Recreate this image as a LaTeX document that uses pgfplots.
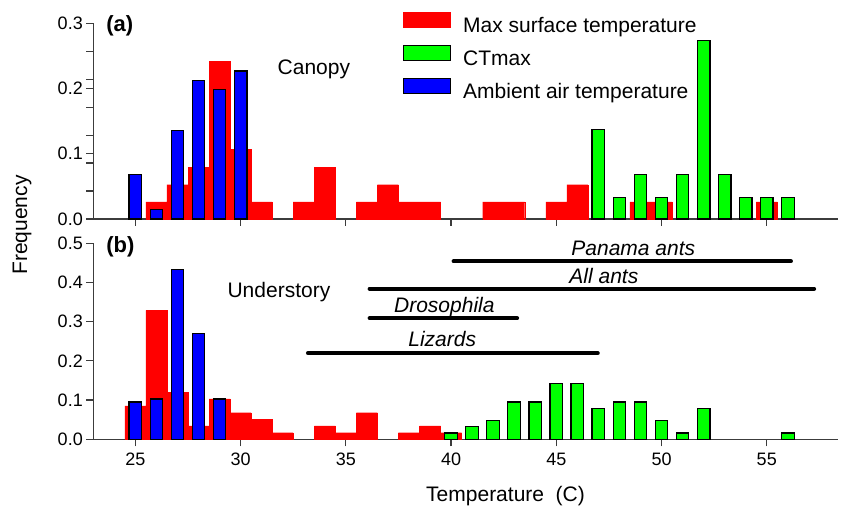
\documentclass[border=0pt]{standalone}
\usepackage{pgfplots}
\pgfplotsset{compat=1.18}
\usepackage{fontspec}
\setmainfont{Liberation Sans}
\definecolor{rred}{RGB}{255,0,0}
\definecolor{ggreen}{RGB}{0,255,0}
\definecolor{bblue}{RGB}{0,0,255}
\definecolor{axgray}{RGB}{60,60,60}
\newcommand{\lblfont}{\fontsize{21}{24}\selectfont}
\pgfplotsset{
  boxlegend/.style={legend image code/.code={\draw[##1] (0pt,0pt) rectangle (47pt,14.6pt);}},
  panel/.style={
    scale only axis, width=745pt,
    xmin=23, xmax=58.4, ymin=0,
    axis lines*=left, axis line style={axgray, line width=1.4pt, -},
    tick align=outside, major tick length=7pt,
    tick style={axgray, line width=1.2pt},
    xtick={25,30,...,55},
    tick label style={font=\fontsize{18}{20}\selectfont},
    /pgf/number format/assume math mode=true,
    yticklabel style={/pgf/number format/fixed, /pgf/number format/fixed zerofill, /pgf/number format/precision=1},
    xticklabel style={yshift=-3pt},
    clip=false,
  },
  redbar/.style={ybar, bar width=1, bar shift=0pt, fill=rred, draw=rred, line width=0.2pt},
  outbar/.style={ybar, bar width=0.6, bar shift=0pt, draw=black, line width=1.2pt},
}
\begin{document}
\begin{tikzpicture}
\useasboundingbox (0,0) rectangle (842pt,508pt);
% ---------------- (a) Canopy ----------------
\begin{axis}[panel, at={(93.3pt,289pt)}, anchor=south west, height=195.7pt,
  ymax=0.3, ytick={0,0.1,0.2,0.3}, xticklabels={},
  extra y ticks={0.0429,0.0857,0.1286,0.1714,0.2143,0.2571}, extra y tick labels={},
  legend style={draw=none, fill=none, inner sep=0pt, outer sep=0pt,
    at={(0.4157,1.056)}, anchor=north west, row sep=8pt, column sep=12pt,
    nodes={inner sep=0pt, text height=15pt, text depth=5pt, font=\lblfont}},
  legend cell align=left]
\addplot[redbar, boxlegend] coordinates {
 (26,0.0263) (27,0.0526) (28,0.0789) (29,0.242) (30,0.107) (31,0.0263)
 (33,0.0263) (34,0.0789) (36,0.0263) (37,0.0526) (38,0.0263) (39,0.0263)
 (42,0.0263) (43,0.0263) (45,0.0263) (46,0.0526) (49,0.0263) (50,0.0263) (55,0.0263)};
\addlegendentry{Max surface temperature}
\addplot[outbar, fill=ggreen, boxlegend] coordinates {
 (47,0.137) (48,0.0335) (49,0.068) (50,0.0335) (51,0.068) (52,0.274)
 (53,0.068) (54,0.0335) (55,0.0335) (56,0.0335)};
\addlegendentry{CTmax}
\addplot[outbar, fill=bblue, boxlegend] coordinates {
 (25,0.068) (26,0.014) (27,0.136) (28,0.212) (29,0.198) (30,0.227)};
\addlegendentry{Ambient air temperature}
\node[anchor=base west, font=\fontsize{22}{24}\selectfont\bfseries] at (axis cs:23.45,0.287) {(a)};
\node[anchor=base, font=\lblfont] at (axis cs:33.48,0.222) {Canopy};
\end{axis}
% ---------------- (b) Understory ----------------
\begin{axis}[panel, at={(93.3pt,68.7pt)}, anchor=south west, height=196pt,
  ymax=0.5, ytick={0,0.1,...,0.5}]
\addplot[redbar] coordinates {
 (25,0.085) (26,0.329) (27,0.120) (28,0.034) (29,0.103) (30,0.068) (31,0.051)
 (32,0.017) (34,0.034) (35,0.017) (36,0.068) (38,0.017) (39,0.034) (40,0.017)};
\addplot[outbar, fill=ggreen] coordinates {
 (40,0.016) (41,0.032) (42,0.048) (43,0.095) (44,0.095) (45,0.143) (46,0.143)
 (47,0.079) (48,0.095) (49,0.095) (50,0.048) (51,0.016) (52,0.079) (56,0.016)};
\addplot[outbar, fill=bblue] coordinates {
 (25,0.095) (26,0.103) (27,0.434) (28,0.269) (29,0.103)};
% thermal ranges
\addplot[black, line width=4pt, line cap=round] coordinates {(40.12,0.454) (56.15,0.454)};
\addplot[black, line width=4pt, line cap=round] coordinates {(36.13,0.384) (57.25,0.384)};
\addplot[black, line width=4pt, line cap=round] coordinates {(36.13,0.309) (43.14,0.309)};
\addplot[black, line width=4pt, line cap=round] coordinates {(33.2,0.220) (46.97,0.220)};
\node[anchor=base, font=\lblfont\itshape] at (axis cs:48.66,0.468) {Panama ants};
\node[anchor=base, font=\lblfont\itshape] at (axis cs:47.26,0.397) {All ants};
\node[anchor=base, font=\lblfont\itshape] at (axis cs:39.68,0.323) {Drosophila};
\node[anchor=base, font=\lblfont\itshape] at (axis cs:39.58,0.236) {Lizards};
\node[anchor=base west, font=\fontsize{22}{24}\selectfont\bfseries] at (axis cs:23.45,0.477) {(b)};
\node[anchor=base, font=\lblfont] at (axis cs:31.82,0.363) {Understory};
\end{axis}
\node[rotate=90, font=\lblfont] at (22pt,283pt) {Frequency};
\node[anchor=base, font=\lblfont] at (505.5pt,6.3pt) {Temperature\hspace{0.55em}(C)};
\end{tikzpicture}
\end{document}
